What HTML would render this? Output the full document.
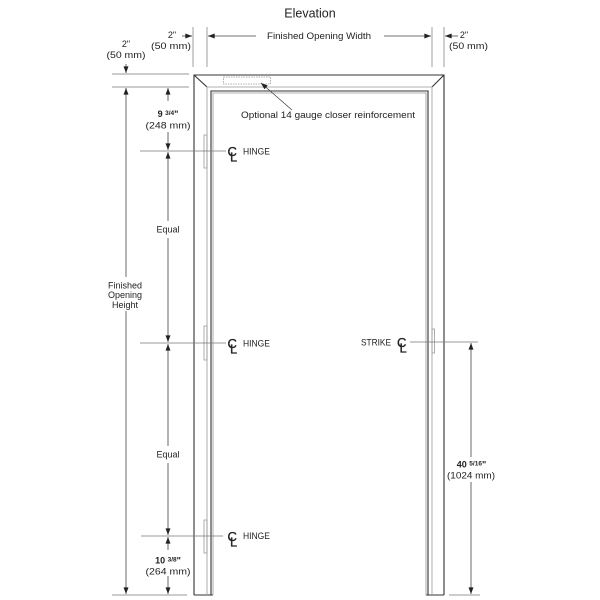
<!DOCTYPE html>
<html><head><meta charset="utf-8"><style>html,body{margin:0;padding:0;background:#fff}svg{display:block}</style></head>
<body>
<svg width="600" height="600" viewBox="0 0 600 600" xmlns="http://www.w3.org/2000/svg" font-family="Liberation Sans, Arial, sans-serif" fill="#222">
<defs>
<marker id="a" viewBox="0 0 8 6" refX="8" refY="3" markerWidth="7" markerHeight="5" orient="auto" markerUnits="userSpaceOnUse"><path d="M0,0 L8,3 L0,6 z" fill="#222"/></marker>
</defs>
<rect width="600" height="600" fill="#fff"/>

<!-- Frame -->
<g fill="none" stroke="#333" stroke-width="1.1">
<path d="M194,595 V75 H444 V595"/>
<path d="M194,595 H213"/>
<path d="M426,595 H444"/>
<path d="M194,75 L207,87"/>
<path d="M444,75 L432,87"/>
<path d="M211,595 V91 H428 V595"/>
</g>
<g fill="none" stroke="#999" stroke-width="0.8">
<path d="M207,595 V87 H432 V595"/>
<path d="M213,595 V93 H426 V595"/>
<rect x="204" y="135" width="3" height="33"/>
<rect x="204" y="326" width="3" height="34"/>
<rect x="204" y="520" width="3" height="33"/>
<rect x="432" y="329" width="2.5" height="24"/>
<rect x="223.5" y="77" width="47" height="7" stroke-dasharray="1.5,1"/>
</g>

<!-- Extension lines -->
<g stroke="#777" stroke-width="0.7" fill="none">
<path d="M193,27 V67 M207,27 V67 M432,27 V67 M444,27 V67"/>
<path d="M112,74 H189 M112,87 H189"/>
<path d="M140,151 H226 M140,343 H226 M141,536 H223"/>
<path d="M410,342 H478"/>
<path d="M112,595 H187 M449,595 H480"/>
</g>

<!-- Dimension lines -->
<g stroke="#444" stroke-width="0.8" fill="none">
<path d="M256,36 H208" marker-end="url(#a)"/>
<path d="M384,36 H431" marker-end="url(#a)"/>
<path d="M182,36 H192" marker-end="url(#a)"/>
<path d="M458,36 H445" marker-end="url(#a)"/>
<path d="M126,64 V73" marker-end="url(#a)"/>
<path d="M126,277 V88" marker-end="url(#a)"/>
<path d="M126,311 V594" marker-end="url(#a)"/>
<path d="M168,101 V88" marker-end="url(#a)"/>
<path d="M168,132 V150" marker-end="url(#a)"/>
<path d="M168,221 V152" marker-end="url(#a)"/>
<path d="M168,238 V342" marker-end="url(#a)"/>
<path d="M168,446 V344" marker-end="url(#a)"/>
<path d="M168,463 V535" marker-end="url(#a)"/>
<path d="M168,550 V537" marker-end="url(#a)"/>
<path d="M168,576 V594" marker-end="url(#a)"/>
<path d="M471,457 V343" marker-end="url(#a)"/>
<path d="M471,482 V594" marker-end="url(#a)"/>
<path d="M292,110 L261,83" marker-end="url(#a)"/>
</g>

<!-- Text -->
<text x="310" y="17.5" font-size="12.5" text-anchor="middle">Elevation</text>
<text x="319" y="39" font-size="9" text-anchor="middle" textLength="104" lengthAdjust="spacingAndGlyphs">Finished Opening Width</text>

<text x="172" y="38" font-size="9" text-anchor="middle">2"</text>
<text x="171" y="49" font-size="9" text-anchor="middle" textLength="40" lengthAdjust="spacingAndGlyphs">(50 mm)</text>
<text x="126" y="47" font-size="9" text-anchor="middle">2"</text>
<text x="126" y="58" font-size="9" text-anchor="middle" textLength="39" lengthAdjust="spacingAndGlyphs">(50 mm)</text>
<text x="464" y="38" font-size="9" text-anchor="middle">2"</text>
<text x="468.5" y="49" font-size="9" text-anchor="middle" textLength="39" lengthAdjust="spacingAndGlyphs">(50 mm)</text>

<text x="241" y="118" font-size="9" textLength="174" lengthAdjust="spacingAndGlyphs">Optional 14 gauge closer reinforcement</text>

<text x="168" y="117" font-size="9" font-weight="bold" text-anchor="middle">9 <tspan font-size="6.5" dy="-2">3/4</tspan><tspan dy="2">"</tspan></text>
<text x="168" y="128.5" font-size="9" text-anchor="middle" textLength="45" lengthAdjust="spacingAndGlyphs">(248 mm)</text>

<text x="125" y="288.5" font-size="9" text-anchor="middle">Finished</text>
<text x="125" y="298" font-size="9" text-anchor="middle">Opening</text>
<text x="125" y="308" font-size="9" text-anchor="middle">Height</text>

<text x="168" y="232.5" font-size="9" text-anchor="middle">Equal</text>
<text x="168" y="457.5" font-size="9" text-anchor="middle">Equal</text>

<text x="168" y="563.5" font-size="9" font-weight="bold" text-anchor="middle">10 <tspan font-size="6.5" dy="-2">3/8</tspan><tspan dy="2">"</tspan></text>
<text x="168" y="574.5" font-size="9" text-anchor="middle" textLength="45" lengthAdjust="spacingAndGlyphs">(264 mm)</text>

<text x="471.5" y="467.5" font-size="9" font-weight="bold" text-anchor="middle">40 <tspan font-size="6.5" dy="-2">5/16</tspan><tspan dy="2">"</tspan></text>
<text x="471" y="478.5" font-size="9" text-anchor="middle" textLength="48" lengthAdjust="spacingAndGlyphs">(1024 mm)</text>

<!-- Hinges / strike with centerline symbols -->
<g font-size="13" fill="#222" stroke="#222" stroke-width="0.35">
<text x="227.5" y="156">C</text><text x="230" y="161.5">L</text>
<text x="227.5" y="348">C</text><text x="230" y="353.5">L</text>
<text x="227.5" y="541">C</text><text x="230" y="546.5">L</text>
<text x="397" y="347">C</text><text x="399.5" y="352.5">L</text>
</g>
<text x="243" y="154.5" font-size="9" textLength="27" lengthAdjust="spacingAndGlyphs">HINGE</text>
<text x="243" y="346.5" font-size="9" textLength="27" lengthAdjust="spacingAndGlyphs">HINGE</text>
<text x="243" y="539" font-size="9" textLength="27" lengthAdjust="spacingAndGlyphs">HINGE</text>
<text x="361" y="345.5" font-size="9" textLength="30" lengthAdjust="spacingAndGlyphs">STRIKE</text>
</svg>
</body></html>
